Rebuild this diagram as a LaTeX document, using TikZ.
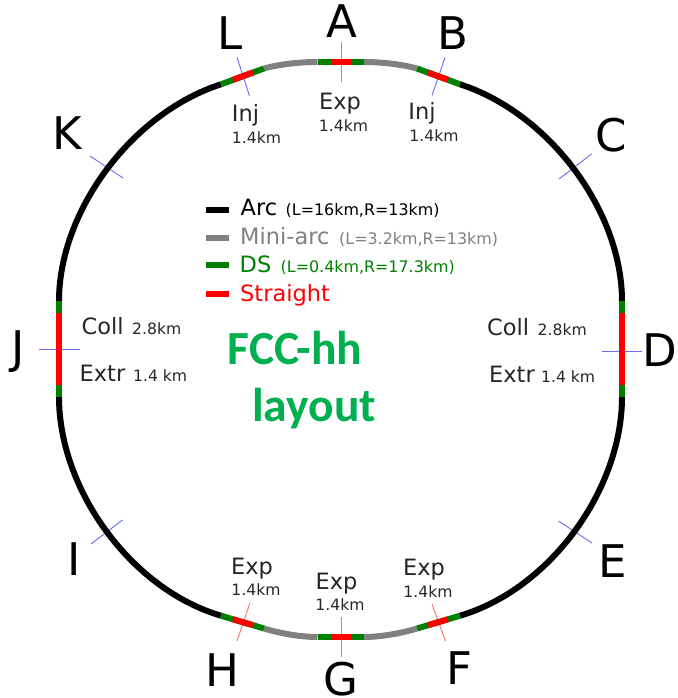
\documentclass[tikz,border=0pt]{standalone}
\usepackage{fontspec}
\setmainfont{DejaVu Sans}
\newfontfamily\titlefont{Carlito}
\usepackage{tikz}
\definecolor{dsgreen}{RGB}{0,128,0}
\definecolor{titlegreen}{RGB}{0,176,80}
\definecolor{miniarcgray}{RGB}{128,128,128}
\definecolor{tickblue}{RGB}{105,105,250}
\definecolor{tickred}{RGB}{255,110,110}
\tikzset{
	arcseg/.style={draw,black,line width=6pt},
	miniseg/.style={draw,miniarcgray,line width=6pt},
	dsseg/.style={draw,dsgreen,line width=6pt},
	straightseg/.style={draw,red,line width=6pt},
	btick/.style={draw,tickblue,line width=0.9pt},
	rtick/.style={draw,tickred,line width=0.9pt},
	point/.style={inner sep=0pt,text=black,font=\fontsize{45}{45}\selectfont},
	sect/.style={inner sep=0pt,anchor=base,text=black!85,font=\fontsize{22.5}{22.5}\selectfont},
	small/.style={inner sep=0pt,anchor=base,text=black!85,font=\fontsize{15.6}{15.6}\selectfont},
	leg/.style={inner sep=0pt,anchor=base west,font=\fontsize{22.5}{22.5}\selectfont},
	legsmall/.style={inner sep=0pt,anchor=base west,font=\fontsize{15.9}{15.9}\selectfont},
	title/.style={inner sep=0pt,anchor=base,text=titlegreen,font=\titlefont\bfseries\fontsize{47.5}{47.5}\selectfont}
}
\begin{document}
\begin{tikzpicture}[x=1pt,y=1pt]
\useasboundingbox (-340.5,-349) rectangle (336.5,349);
% ticks
\path[rtick] (0.5,307)--(0.5,267);
\path[rtick] (0.5,-268)--(0.5,-308);
\path[btick] (-103.5,292)--(-91,253);
\path[btick] (104.5,291.5)--(91.5,253.5);
\path[rtick] (91.5,-255)--(105,-292);
\path[rtick] (-90.5,-254)--(-103.5,-292);
\path[btick] (261.5,-2)--(301.5,-2);
\path[btick] (-301.5,0)--(-260.5,0);
\path[btick] (218.5,170)--(251,195);
\path[btick] (218,-172)--(251.5,-194);
\path[btick] (-217.5,171)--(-250.5,193);
\path[btick] (-218,-171)--(-249.5,-195);
% arcs
\path[arcseg] (119.5,264.7) .. controls (208.6,236) and (281.5,138) .. (281.5,48);
\path[arcseg] (-119.5,264.7) .. controls (-208.6,236) and (-281.5,138) .. (-281.5,48);
\path[arcseg] (119.5,-266.7) .. controls (210,-240) and (281.5,-140) .. (281.5,-48);
\path[arcseg] (-119.5,-266.7) .. controls (-210,-240) and (-281.5,-140) .. (-281.5,-48);
% mini arcs
\path[miniseg] (23,287) .. controls (40,287) and (60,285) .. (76.5,280.5);
\path[miniseg] (-23,287) .. controls (-40,287) and (-60,285) .. (-76.5,280.5);
\path[miniseg] (23,-288) .. controls (40,-288) and (60,-284.5) .. (76.5,-279.5);
\path[miniseg] (-23,-288) .. controls (-40,-288) and (-60,-284.5) .. (-76.5,-279.5);
% ds
\path[dsseg] (-23,287)--(23,287);
\path[dsseg] (-23,-288)--(23,-288);
\path[dsseg] (76.5,280.5)--(119.5,264.7);
\path[dsseg] (-76.5,280.5)--(-119.5,264.7);
\path[dsseg] (76.5,-279.5)--(119.5,-266.7);
\path[dsseg] (-76.5,-279.5)--(-119.5,-266.7);
\path[dsseg] (281.5,-48)--(281.5,48);
\path[dsseg] (-281.5,-48)--(-281.5,48);
% straights
\path[straightseg] (-10,287)--(10,287);
\path[straightseg] (-10,-288)--(10,-288);
\path[straightseg] (87.5,276.5)--(107.5,269.2);
\path[straightseg] (-87.5,276.5)--(-107.5,269.2);
\path[straightseg] (87.5,-276.2)--(107.5,-270.3);
\path[straightseg] (-87.5,-276.2)--(-107.5,-270.3);
\path[straightseg] (281.5,-36)--(281.5,36);
\path[straightseg] (-281.5,-36)--(-281.5,36);
% point names
\node[point] (nA) at (1,327.5) {A};
\node[point] (nB) at (112.5,316) {B};
\node[point] (nC) at (270.5,214) {C};
\node[point] (nD) at (319.5,-1) {D};
\node[point] (nE) at (272.5,-212) {E};
\node[point] (nF) at (118.5,-319) {F};
\node[point] (nG) at (0.5,-330) {G};
\node[point] (nH) at (-118.5,-321) {H};
\node[point] (nI) at (-266.5,-210) {I};
\node[point] (nJ) at (-322,-3) {J};
\node[point] (nK) at (-273.5,216) {K};
\node[point] (nL) at (-110.5,316) {L};
% insertion labels
\node[sect] (lExpA) at (-0.5,239) {Exp};
\node[small] (kExpA) at (3,217) {1.4km};
\node[sect] (lInjL) at (-95,227) {Inj};
\node[small] (kInjL) at (-84,205.7) {1.4km};
\node[sect] (lInjB) at (81.5,229) {Inj};
\node[small] (kInjB) at (93.5,207.3) {1.4km};
\node[sect] (lExpH) at (-88.5,-225) {Exp};
\node[small] (kExpH) at (-84.5,-246.7) {1.4km};
\node[sect] (lExpG) at (-4,-240) {Exp};
\node[small] (kExpG) at (-0.5,-261.7) {1.4km};
\node[sect] (lExpF) at (83.5,-226.7) {Exp};
\node[small] (kExpF) at (87.5,-248.3) {1.4km};
% collimation and extraction
\node[sect,anchor=base west] (lCollL) at (-259,14) {Coll};
\node[small,anchor=base west] (kCollL) at (-208.5,14) {2.8km};
\node[sect,anchor=base west] (lExtrL) at (-261,-33) {Extr};
\node[small,anchor=base west] (kExtrL) at (-207.5,-33) {1.4 km};
\node[sect,anchor=base west] (lCollR) at (146.5,13.3) {Coll};
\node[small,anchor=base west] (kCollR) at (197,13.3) {2.8km};
\node[sect,anchor=base west] (lExtrR) at (148.5,-33.3) {Extr};
\node[small,anchor=base west] (kExtrR) at (200.5,-33.3) {1.4 km};
% legend
\path[arcseg] (-134.5,139)--(-111.5,139);
\path[miniseg] (-134.5,111.3)--(-111.5,111.3);
\path[dsseg] (-134.5,84)--(-111.5,84);
\path[straightseg] (-134.5,54.7)--(-111.5,54.7);
\node[leg,text=black] (tArc) at (-100,133) {Arc};
\node[legsmall,text=black] (kArc) at (-55,133) {(L=16km,R=13km)};
\node[leg,text=miniarcgray] (tMini) at (-100.5,104.7) {Mini-arc};
\node[legsmall,text=miniarcgray] (kMini) at (-1.5,104.7) {(L=3.2km,R=13km)};
\node[leg,text=dsgreen] (tDS) at (-101,76) {DS};
\node[legsmall,text=dsgreen] (kDS) at (-60,76) {(L=0.4km,R=17.3km)};
\node[leg,text=red] (tStr) at (-100.5,47.3) {Straight};
% title
\node[title] (tFCC) at (-45.5,-15.3) {FCC-hh};
\node[title] (tLay) at (-26.5,-72.7) {layout};
\end{tikzpicture}
\end{document}
